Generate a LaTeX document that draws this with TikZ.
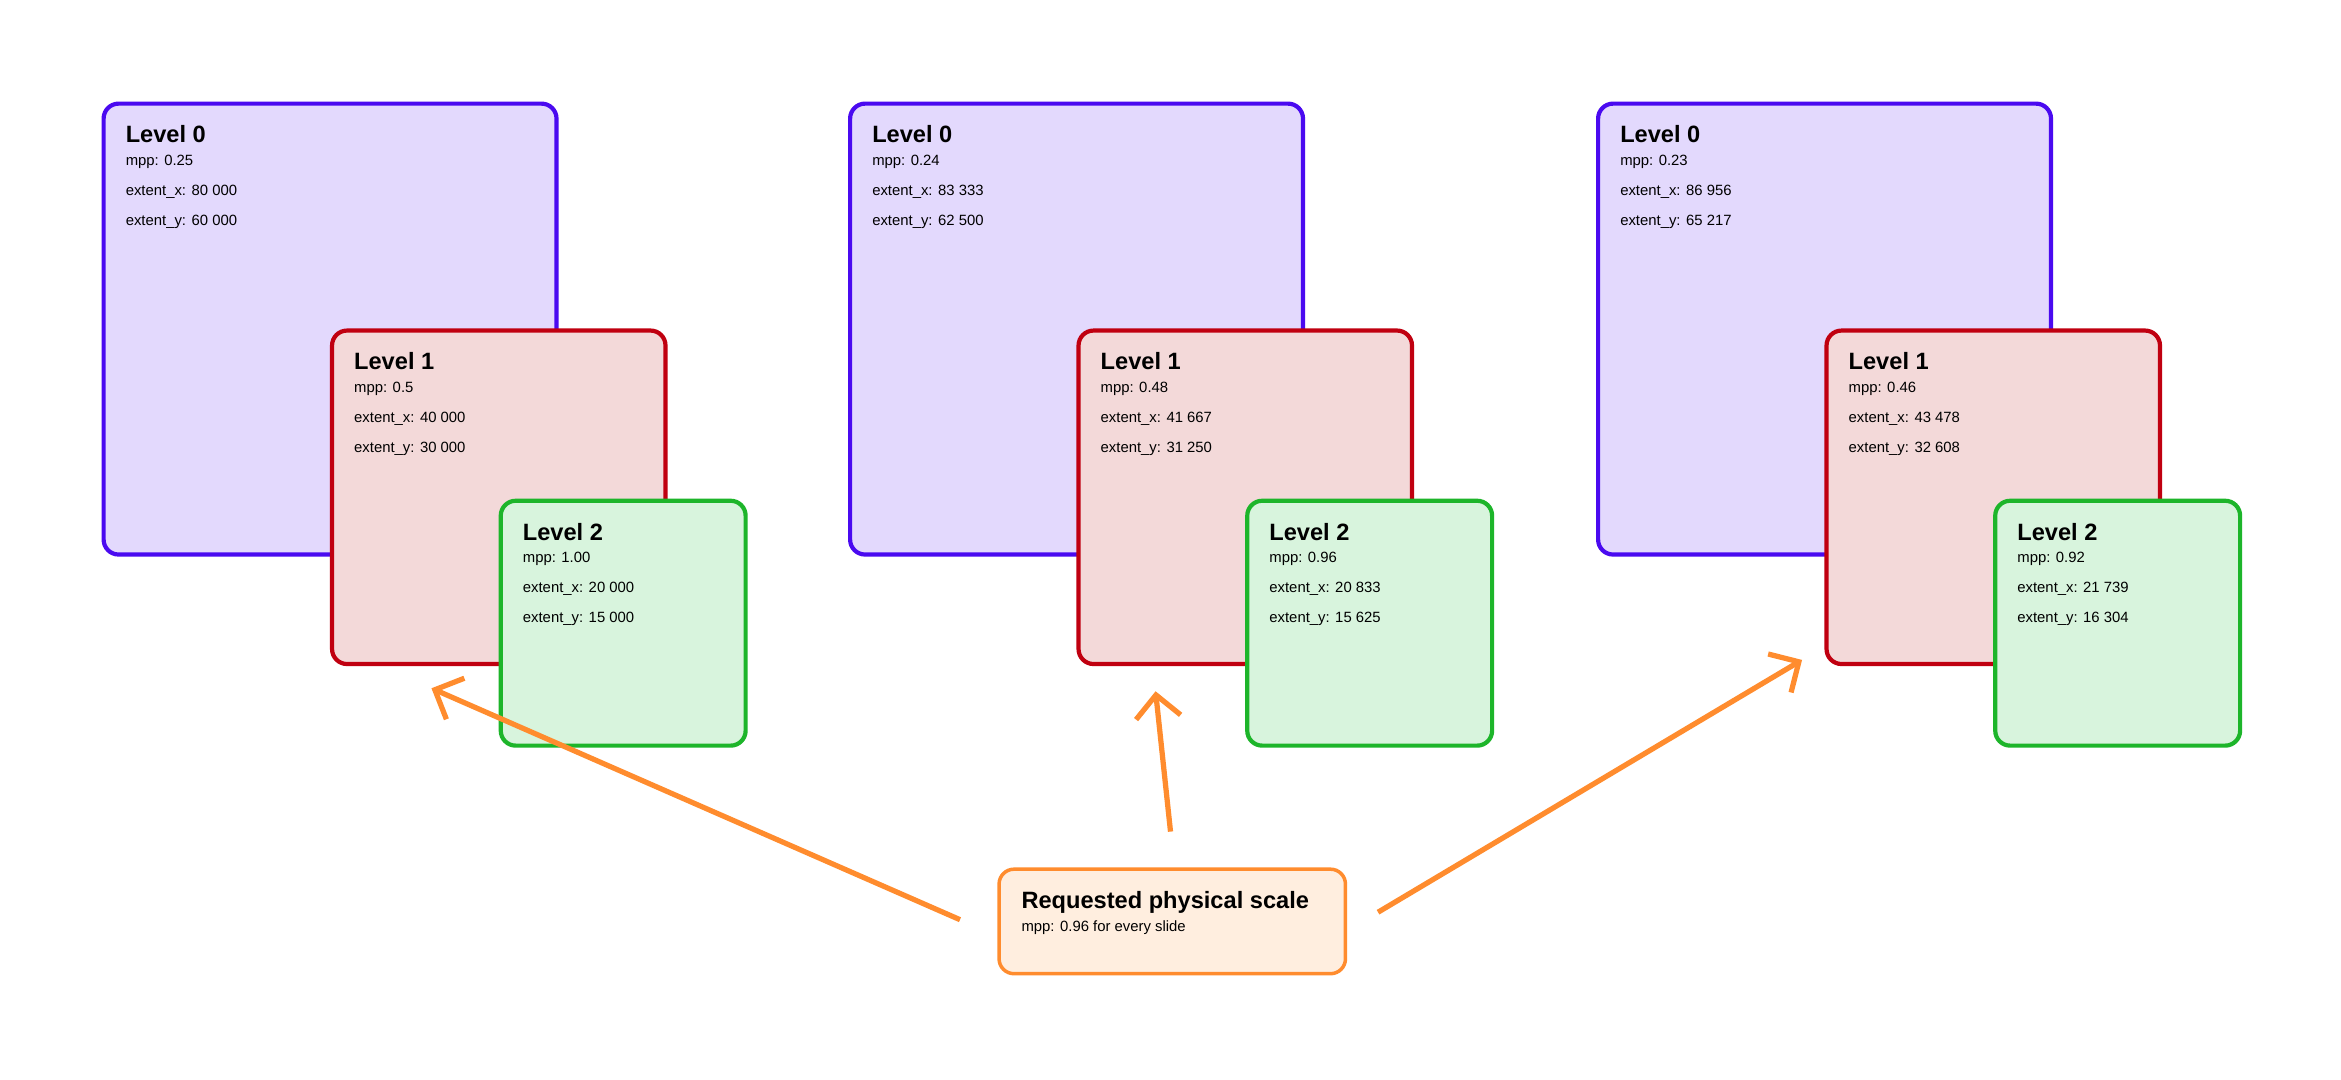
\documentclass[tikz,border=0pt]{standalone}
\usepackage{fontspec}
\setmainfont{Liberation Sans}
\usetikzlibrary{arrows.meta}
\usetikzlibrary{positioning}
\definecolor{lvlAline}{HTML}{4A0AF0}
\definecolor{lvlAfill}{HTML}{E3D9FD}
\definecolor{lvlBline}{HTML}{C00010}
\definecolor{lvlBfill}{HTML}{F3D9D9}
\definecolor{lvlCline}{HTML}{1DB52A}
\definecolor{lvlCfill}{HTML}{D8F4DD}
\definecolor{reqline}{HTML}{FF8C2E}
\definecolor{reqfill}{HTML}{FFEEDF}
\newcommand{\headfont}{\fontsize{13.5}{16}\selectfont\bfseries}
\newcommand{\bodyfont}{\fontsize{8.5}{10}\selectfont}
\newcommand{\lvltext}[4]{\begin{tabular}{@{}l@{}}
  \headfont Level #1\\[1pt]
  \bodyfont mpp: #2\\[5pt]
  \bodyfont extent\_x: #3\\[5pt]
  \bodyfont extent\_y: #4
  \end{tabular}}
\begin{document}
\begin{tikzpicture}[x=0.03cm, y=-0.03cm,
    box/.style={draw, line width=2.4pt, rounded corners=0.3cm, anchor=north west, inner sep=0pt},
    info/.style={anchor=north west, align=left, inner sep=0pt},
    pointer/.style={draw=reqline, line width=3pt, -{Straight Barb[length=0.45cm, width=0.9cm, line width=3pt]}}]
    \fill[white] (0,0) rectangle (1568,723);
    \useasboundingbox (0,0) rectangle (1568,723);
    \foreach \g/\dx/\ma/\xa/\ya/\mb/\xb/\yb/\mc/\xc/\yc in {
        0/0/0.25/80 000/60 000/0.5/40 000/30 000/1.00/20 000/15 000,
        1/500/0.24/83 333/62 500/0.48/41 667/31 250/0.96/20 833/15 625,
        2/1001/0.23/86 956/65 217/0.46/43 478/32 608/0.92/21 739/16 304} {
        \node (l0-\g) [box, draw=lvlAline, fill=lvlAfill, minimum width=9.1cm, minimum height=9.06cm] at (68+\dx,68) {};
        \node (t0-\g) [info] at ([shift={(16,16)}]l0-\g.north west) {\lvltext{0}{\ma}{\xa}{\ya}};
        \node (l1-\g) [box, draw=lvlBline, fill=lvlBfill, minimum width=6.7cm, minimum height=6.7cm] at (221+\dx,220) {};
        \node (t1-\g) [info] at ([shift={(16,16)}]l1-\g.north west) {\lvltext{1}{\mb}{\xb}{\yb}};
        \node (l2-\g) [box, draw=lvlCline, fill=lvlCfill, minimum width=4.92cm, minimum height=4.92cm] at (334+\dx,334) {};
        \node (t2-\g) [info] at ([shift={(16,16)}]l2-\g.north west) {\lvltext{2}{\mc}{\xc}{\yc}};
    }
    \node (req) [box, draw=reqline, fill=reqfill, line width=2pt, minimum width=6.96cm, minimum height=2.1cm] at (668,581) {};
    \node (reqtext) [info] at ([shift={(16,16)}]req.north west) {\begin{tabular}{@{}l@{}}
        \headfont Requested physical scale\\[1pt]
        \bodyfont mpp: 0.96 for every slide
        \end{tabular}};
    \coordinate (fromA) at (643,616);
    \coordinate (toA) at (289,461);
    \coordinate (fromB) at (784,557);
    \coordinate (toB) at (774,463);
    \coordinate (fromC) at (923,611);
    \coordinate (toC) at (1207,442);
    \draw [pointer] (fromA) -- (toA);
    \draw [pointer] (fromB) -- (toB);
    \draw [pointer] (fromC) -- (toC);
\end{tikzpicture}
\end{document}
